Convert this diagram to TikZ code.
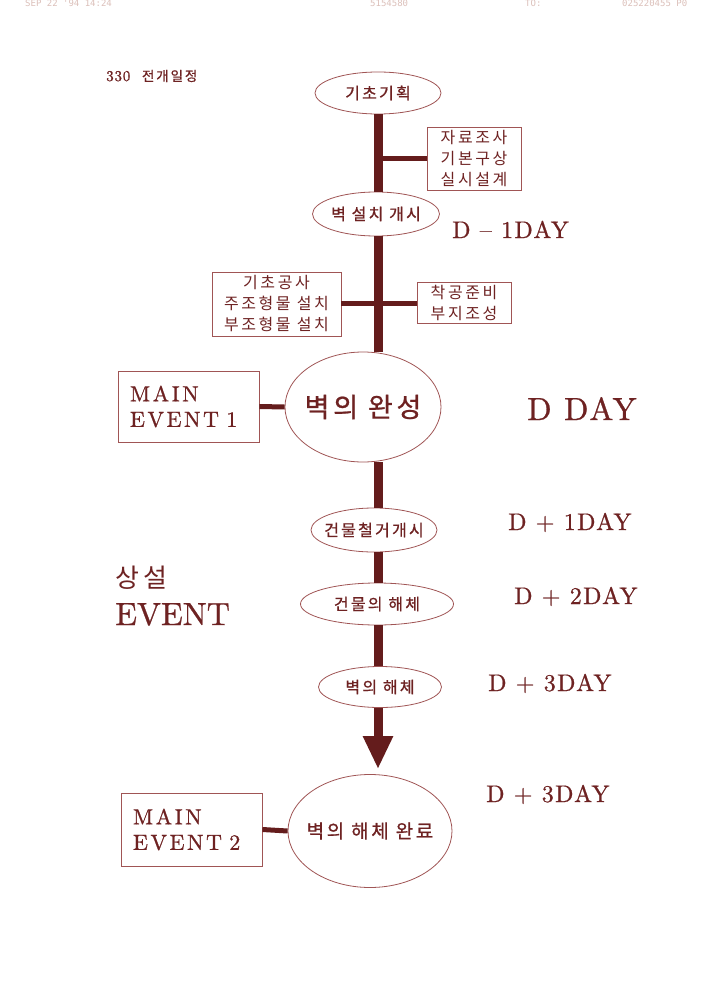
\documentclass[tikz,border=0pt]{standalone}
\usepackage{fontspec}
\newfontfamily\kr{Noto Sans CJK KR}[LetterSpace=14, FakeBold=0.8]
\newfontfamily\krl{Noto Sans CJK KR}[LetterSpace=16]
\newfontfamily\lat{lmroman10-regular}[Extension=.otf, LetterSpace=5.5, FakeBold=0.8]
\newfontfamily\latn{lmroman10-regular}[Extension=.otf, FakeBold=0.8]
\newfontfamily\latw{lmroman10-regular}[Extension=.otf, LetterSpace=11.5, FakeBold=0.8]
\newfontfamily\faxfont{DejaVu Sans Mono}
\newcommand\evtxt[1]{\makebox[0pt]{#1}}
\usetikzlibrary{shapes.geometric,arrows.meta}
\definecolor{ink}{HTML}{6E2222}
\definecolor{spinec}{HTML}{641C1C}
\definecolor{edgec}{HTML}{A05555}
\definecolor{faint}{HTML}{DCC0BA}
\begin{document}
\begin{tikzpicture}[x=1pt,y=-1pt,
  evt/.style={ellipse, draw=edgec, line width=0.8pt, fill=white, inner sep=0pt, text=ink},
  box/.style={rectangle, draw=edgec, line width=0.8pt, fill=white, inner sep=0pt, text=ink, align=center},
  mainbox/.style={box, align=left, inner xsep=12pt, text width=117pt, minimum height=71pt,
     font=\latw\fontsize{22}{25.5}\selectfont},
  spine/.style={draw=spinec, line width=9pt},
  branch/.style={draw=spinec, line width=5pt},
  daylbl/.style={text=ink, inner sep=0pt, anchor=base west, font=\lat\fontsize{24}{28}\selectfont},
  fax/.style={text=faint, inner sep=0pt, anchor=west, font=\faxfont\fontsize{9}{10}\selectfont},
  small/.style={font=\krl\fontsize{16}{21}\selectfont},
  mid/.style={font=\kr\fontsize{16}{20}\selectfont}]
\useasboundingbox[fill=white] (0,0) rectangle (710,1000);

% fax header
\node[fax] (h1) at (25,3) {SEP 22 '94 14:24};
\node[fax] (h2) at (370,3) {5154580};
\node[fax] (h3) at (525,3) {TO:};
\node[fax] (h4) at (622,3) {025220455 P0};

\node[text=ink, inner sep=0pt, anchor=base west] (title) at (106,81)
  {\lat\fontsize{15}{17}\selectfont 330\ \ {\kr\fontsize{13.5}{15}\selectfont 전개일정}};

\coordinate (sp) at (378,0);

% events
\node[evt, mid, minimum width=126pt, minimum height=42pt] (e1) at (378,93) {\evtxt{기초기획}};
\node[evt, mid, minimum width=127pt, minimum height=44pt] (e2) at (376,214) {\evtxt{벽 설치 개시}};
\node[evt, font=\kr\fontsize{27}{30}\selectfont, minimum width=156pt, minimum height=110pt] (e3) at (363,407) {\evtxt{벽의 완성}};
\node[evt, mid, minimum width=126pt, minimum height=44pt] (e4) at (374,530) {\evtxt{건물철거개시}};
\node[evt, mid, minimum width=153pt, minimum height=42pt] (e5) at (377,604) {\evtxt{건물의 해체}};
\node[evt, mid, minimum width=123pt, minimum height=41pt] (e6) at (380,687) {\evtxt{벽의 해체}};
\node[evt, font=\kr\fontsize{19}{22}\selectfont, minimum width=164pt, minimum height=113pt] (e7) at (370,831) {\evtxt{벽의 해체 완료}};

% side boxes
\node[box, small, minimum width=94pt, minimum height=63pt] (b1) at (474,158.5) {자료조사\\기본구상\\실시설계};
\node[box, small, minimum width=129pt, minimum height=64pt] (bl) at (276.5,304) {기초공사\\주조형물 설치\\부조형물 설치};
\node[box, small, minimum width=94pt, minimum height=41pt] (br) at (464,303) {착공준비\\부지조성};
\node[mainbox] (m1) at (188.5,406.5) {MAIN\\EVENT 1};
\node[mainbox, minimum height=73pt] (m2) at (191.5,829.5) {MAIN\\EVENT 2};

% spine
\draw[spine] (e1.south -| sp) -- (e2.north -| sp);
\draw[spine] (e2.south -| sp) -- (e3.north -| sp);
\draw[spine] (e3.south -| sp) -- (e4.north -| sp);
\draw[spine] (e4.south -| sp) -- (e5.north -| sp);
\draw[spine] (e5.south -| sp) -- (e6.north -| sp);
\draw[spine, -{Triangle[width=28pt,length=33pt]}, shorten >=5pt] (e6.south -| sp) -- (e7.north -| sp);

% branches
\draw[branch] (b1.west -| sp) -- (b1.west);
\draw[branch] (bl.east |- br.west) -- (br.west);
\draw[branch] (m1.east) -- (e3.west);
\draw[branch] (m2.east) -- (e7.west);

% day labels
\node[daylbl] (d0) at (452,238) {D – 1DAY};
\node[daylbl, font=\lat\fontsize{32}{36}\selectfont] (d1) at (527,420) {D DAY};
\node[daylbl] (d2) at (508,530) {D + 1DAY};
\node[daylbl] (d3) at (514,604) {D + 2DAY};
\node[daylbl] (d4) at (488,691) {D + 3DAY};
\node[daylbl] (d5) at (486,802) {D + 3DAY};

% side label
\node[text=ink, inner sep=0pt, anchor=west, font=\krl\fontsize{26}{30}\selectfont] (s1) at (115,578) {상설};
\node[text=ink, inner sep=0pt, anchor=base west, font=\latn\fontsize{32}{34}\selectfont] (s2) at (115,625) {EVENT};
\end{tikzpicture}
\end{document}
